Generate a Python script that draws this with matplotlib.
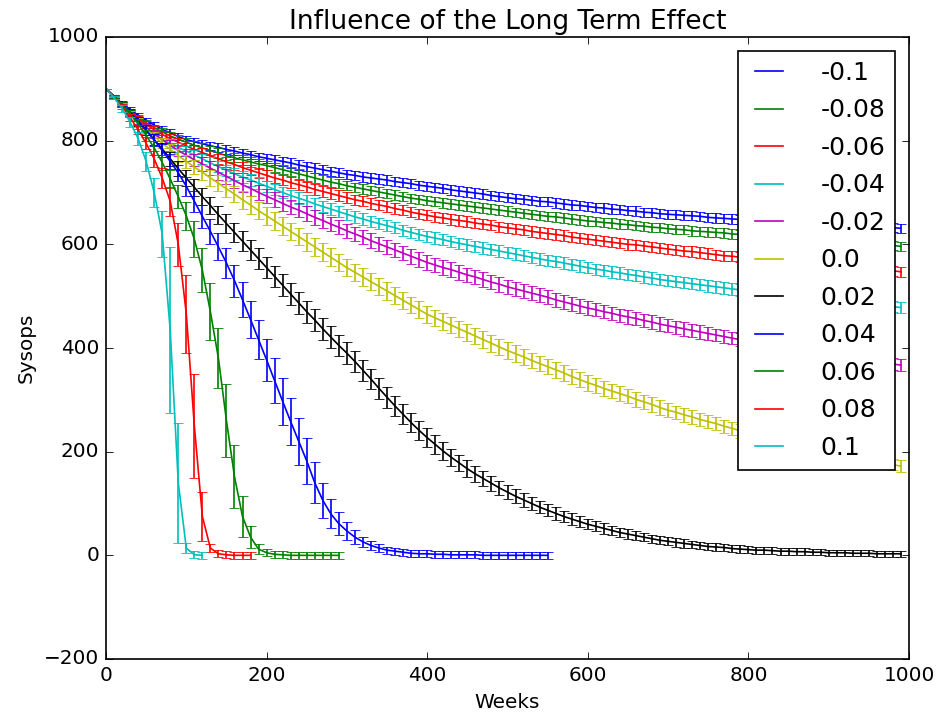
import numpy as np
import matplotlib
matplotlib.use('Agg')
import matplotlib.pyplot as plt

plt.style.use('classic')

# weeks sampled every 10 weeks, each run stops when its population is gone
weeks = np.arange(0, 1000, 10)
labels = ['-0.1', '-0.08', '-0.06', '-0.04', '-0.02', '0.0',
          '0.02', '0.04', '0.06', '0.08', '0.1']
colors = ['b', 'g', 'r', 'c', 'm', 'y', 'k', 'b', 'g', 'r', 'c']

sysops_m10 = [900, 885, 872, 860, 849, 839, 830, 822, 815, 808,
              802, 798, 794, 790, 787, 783, 780, 776, 773, 769,
              766, 763, 760, 757, 753, 750, 747, 744, 741, 738,
              735, 733, 730, 728, 726, 724, 721, 719, 717, 714,
              712, 710, 708, 705, 703, 701, 699, 697, 694, 692,
              690, 688, 687, 685, 683, 682, 680, 678, 676, 675,
              673, 671, 670, 668, 667, 665, 664, 662, 661, 659,
              658, 657, 656, 655, 654, 652, 651, 650, 649, 648,
              647, 646, 645, 644, 643, 642, 642, 641, 640, 639,
              638, 637, 636, 636, 635, 634, 633, 633, 632, 631]
sysops_m08 = [900, 884, 870, 857, 845, 834, 825, 817, 809, 803,
              797, 791, 786, 781, 776, 771, 767, 763, 759, 755,
              752, 748, 744, 740, 736, 732, 728, 724, 720, 717,
              713, 710, 707, 704, 701, 698, 695, 692, 689, 687,
              684, 682, 680, 678, 676, 674, 672, 670, 668, 666,
              664, 662, 660, 658, 656, 654, 653, 651, 649, 647,
              645, 644, 642, 641, 639, 638, 636, 635, 633, 632,
              630, 629, 628, 626, 625, 624, 623, 622, 620, 619,
              618, 617, 616, 614, 613, 612, 611, 610, 608, 607,
              606, 605, 604, 603, 602, 601, 600, 599, 598, 596]
sysops_m06 = [900, 883, 868, 854, 842, 831, 821, 812, 804, 797,
              790, 783, 777, 771, 765, 759, 754, 748, 743, 738,
              733, 728, 724, 719, 715, 711, 706, 702, 698, 694,
              690, 686, 683, 679, 676, 673, 669, 666, 662, 659,
              656, 653, 651, 648, 646, 644, 641, 639, 637, 634,
              632, 630, 628, 625, 623, 621, 619, 617, 614, 612,
              610, 608, 606, 604, 602, 600, 599, 597, 595, 593,
              591, 589, 587, 586, 584, 582, 580, 578, 577, 575,
              573, 572, 570, 569, 567, 566, 565, 563, 562, 560,
              559, 558, 556, 555, 554, 552, 551, 550, 549, 547]
sysops_m04 = [900, 883, 867, 852, 838, 825, 813, 802, 795, 787,
              780, 772, 765, 757, 750, 743, 736, 730, 724, 718,
              712, 706, 700, 694, 689, 684, 678, 673, 668, 663,
              658, 653, 649, 644, 640, 636, 632, 627, 623, 619,
              615, 612, 609, 605, 602, 599, 596, 593, 590, 587,
              584, 581, 578, 575, 572, 569, 567, 564, 561, 558,
              555, 552, 550, 547, 545, 542, 540, 537, 535, 532,
              530, 528, 526, 524, 522, 520, 518, 516, 514, 512,
              510, 508, 507, 505, 503, 502, 500, 498, 496, 495,
              493, 491, 490, 488, 486, 485, 483, 481, 480, 478]
sysops_m02 = [900, 884, 868, 853, 839, 826, 813, 802, 791, 781,
              772, 763, 755, 747, 739, 731, 723, 715, 708, 700,
              693, 686, 679, 672, 666, 659, 652, 646, 639, 633,
              626, 620, 614, 607, 601, 595, 589, 583, 577, 571,
              565, 560, 555, 551, 546, 541, 537, 532, 527, 523,
              518, 514, 510, 506, 502, 498, 493, 489, 485, 481,
              477, 474, 470, 467, 463, 460, 457, 453, 450, 446,
              443, 440, 437, 434, 431, 428, 425, 422, 419, 416,
              413, 411, 408, 406, 403, 401, 398, 396, 393, 391,
              388, 386, 383, 381, 379, 376, 374, 372, 369, 367]
sysops_00 = [900, 884, 868, 852, 837, 822, 808, 795, 783, 771,
             760, 749, 739, 728, 718, 707, 697, 686, 676, 665,
             655, 645, 635, 625, 615, 605, 595, 585, 575, 565,
             555, 546, 537, 528, 519, 510, 501, 492, 483, 474,
             465, 458, 451, 444, 437, 430, 423, 416, 409, 402,
             395, 389, 383, 376, 370, 364, 358, 352, 345, 339,
             333, 328, 322, 317, 312, 307, 301, 296, 291, 285,
             280, 276, 271, 267, 262, 258, 254, 249, 245, 240,
             236, 232, 229, 225, 222, 218, 214, 211, 207, 204,
             200, 197, 194, 191, 188, 184, 181, 178, 175, 172]
sysops_02 = [900, 885, 870, 853, 837, 820, 802, 784, 765, 746,
             728, 710, 692, 675, 657, 640, 623, 606, 589, 572,
             555, 538, 521, 504, 487, 470, 454, 437, 421, 405,
             390, 374, 357, 340, 322, 305, 288, 272, 256, 241,
             227, 214, 201, 189, 178, 167, 157, 148, 139, 130,
             122, 114, 107, 100, 93, 87, 81, 75, 70, 65,
             60, 56, 52, 48, 44, 41, 38, 35, 32, 29,
             27, 25, 23, 21, 19, 17, 16, 15, 13, 12,
             11, 10, 10, 9, 8, 8, 7, 7, 6, 6,
             5, 5, 5, 4, 4, 4, 3, 3, 3, 3]
sysops_04 = [900, 886, 871, 855, 838, 820, 801, 781, 760, 738,
             712, 683, 654, 625, 595, 564, 530, 493, 455, 416,
             377, 337, 297, 258, 220, 182, 140, 106, 80, 61,
             47, 35, 26, 19, 14, 10, 8, 6, 4, 3,
             3, 2, 2, 1, 1, 1, 1, 0, 0, 0,
             0, 0, 0, 0, 0, 0]
sysops_06 = [900, 886, 870, 852, 832, 810, 786, 758, 726, 692,
             655, 610, 550, 470, 380, 260, 152, 75, 35, 12,
             5, 2, 1, 0, 0, 0, 0, 0, 0, 0]
sysops_08 = [900, 884, 866, 845, 821, 795, 765, 728, 683, 600,
             466, 250, 75, 14, 3, 1, 0, 0, 0]
sysops_10 = [900, 883, 862, 836, 804, 760, 700, 620, 434, 140,
             14, 1, 0]

err_m10 = [0, 2, 3, 4, 5, 5, 6, 6, 7, 7,
           7, 7, 8, 8, 8, 8, 8, 8, 8, 8,
           9, 9, 9, 9, 9, 9, 9, 9, 9, 9,
           9, 9, 9, 9, 9, 9, 9, 9, 9, 9,
           9, 9, 9, 9, 9, 9, 9, 9, 9, 9,
           9, 9, 9, 9, 9, 9, 9, 9, 9, 9,
           9, 9, 9, 9, 9, 9, 9, 9, 9, 9,
           9, 9, 9, 9, 9, 9, 9, 9, 9, 9,
           9, 9, 9, 9, 9, 9, 9, 9, 9, 9,
           9, 9, 9, 9, 9, 9, 9, 9, 9, 9]
err_m08 = [0, 2, 3, 4, 5, 6, 6, 7, 7, 8,
           8, 8, 9, 9, 9, 9, 9, 9, 9, 9,
           9, 9, 9, 9, 9, 9, 9, 9, 9, 9,
           9, 9, 9, 9, 9, 9, 9, 9, 9, 9,
           9, 9, 9, 9, 9, 9, 9, 9, 9, 9,
           9, 9, 9, 9, 9, 9, 9, 9, 9, 9,
           9, 9, 9, 9, 9, 9, 9, 9, 9, 9,
           9, 9, 9, 9, 9, 9, 9, 9, 9, 9,
           9, 9, 9, 9, 9, 9, 9, 9, 9, 9,
           9, 9, 9, 9, 9, 9, 9, 9, 9, 9]
err_m06 = [0, 2, 3, 4, 5, 6, 7, 7, 8, 8,
           9, 9, 9, 10, 10, 10, 10, 10, 10, 10,
           10, 10, 10, 10, 10, 10, 10, 10, 10, 10,
           10, 10, 10, 10, 10, 10, 10, 10, 10, 10,
           10, 10, 10, 10, 10, 10, 10, 10, 10, 10,
           10, 10, 10, 10, 10, 10, 10, 10, 10, 10,
           10, 10, 10, 10, 10, 10, 10, 10, 10, 10,
           10, 10, 10, 10, 10, 10, 10, 10, 10, 10,
           10, 10, 10, 10, 10, 10, 10, 10, 10, 10,
           10, 10, 10, 10, 10, 10, 10, 10, 10, 10]
err_m04 = [0, 2, 3, 5, 6, 7, 7, 8, 9, 9,
           10, 10, 10, 11, 11, 11, 11, 11, 11, 11,
           11, 11, 11, 11, 11, 11, 11, 11, 11, 11,
           11, 11, 11, 11, 11, 11, 11, 11, 11, 11,
           11, 11, 11, 11, 11, 11, 11, 11, 11, 11,
           11, 11, 11, 11, 11, 11, 11, 11, 11, 11,
           11, 11, 11, 11, 11, 11, 11, 11, 11, 11,
           11, 11, 11, 11, 11, 11, 11, 11, 11, 11,
           11, 11, 11, 11, 11, 11, 11, 11, 11, 11,
           11, 11, 11, 11, 11, 11, 11, 11, 11, 11]
err_m02 = [0, 2, 4, 5, 6, 7, 8, 9, 10, 11,
           12, 12, 13, 13, 14, 14, 14, 14, 14, 14,
           14, 14, 14, 14, 14, 14, 14, 14, 14, 14,
           14, 14, 14, 14, 14, 14, 14, 14, 14, 14,
           14, 14, 14, 14, 14, 14, 14, 14, 14, 14,
           14, 14, 14, 14, 13, 13, 13, 13, 13, 13,
           13, 13, 13, 13, 13, 13, 13, 13, 13, 13,
           13, 13, 13, 13, 13, 13, 12, 12, 12, 12,
           12, 12, 12, 12, 12, 12, 12, 12, 12, 12,
           12, 12, 12, 12, 12, 12, 12, 12, 12, 12]
err_00 = [0, 3, 4, 6, 7, 8, 9, 10, 11, 12,
          13, 14, 15, 15, 16, 16, 16, 17, 17, 17,
          17, 17, 17, 17, 17, 17, 17, 17, 17, 17,
          17, 17, 17, 17, 17, 17, 16, 16, 16, 16,
          16, 16, 16, 16, 16, 16, 16, 16, 16, 16,
          16, 16, 15, 15, 15, 15, 15, 15, 15, 15,
          15, 15, 14, 14, 14, 14, 14, 14, 14, 14,
          14, 13, 13, 13, 13, 13, 13, 13, 13, 13,
          12, 12, 12, 12, 12, 12, 12, 12, 12, 12,
          11, 11, 11, 11, 11, 11, 11, 11, 11, 11]
err_02 = [0, 3, 5, 7, 8, 10, 11, 12, 13, 14,
          15, 16, 16, 17, 17, 18, 18, 19, 19, 20,
          20, 20, 21, 21, 21, 21, 21, 21, 21, 21,
          21, 21, 20, 20, 20, 20, 19, 19, 19, 18,
          18, 18, 17, 17, 16, 16, 16, 15, 15, 14,
          14, 14, 13, 13, 12, 12, 12, 11, 11, 10,
          10, 10, 10, 9, 9, 9, 9, 8, 8, 8,
          8, 8, 8, 7, 7, 7, 7, 7, 7, 7,
          7, 7, 7, 7, 7, 7, 7, 7, 6, 6,
          6, 6, 6, 6, 6, 6, 6, 6, 6, 6]
err_04 = [0, 3, 5, 7, 8, 10, 11, 13, 14, 16,
          18, 20, 22, 24, 26, 28, 31, 34, 36, 38,
          40, 43, 46, 46, 45, 44, 40, 34, 28, 22,
          17, 13, 10, 8, 7, 7, 7, 7, 7, 7,
          7, 7, 7, 7, 7, 7, 7, 7, 7, 7,
          7, 7, 7, 7, 7, 7]
err_06 = [0, 3, 5, 7, 9, 11, 13, 15, 18, 22,
          27, 35, 42, 55, 58, 71, 61, 39, 21, 10,
          7, 7, 7, 7, 7, 7, 7, 7, 7, 7]
err_08 = [0, 3, 5, 7, 9, 12, 15, 20, 28, 42,
          75, 100, 48, 8, 7, 7, 7, 7, 7]
err_10 = [0, 3, 6, 9, 12, 18, 28, 45, 160, 116,
          9, 7, 7]

series = [(sysops_m10, err_m10), (sysops_m08, err_m08), (sysops_m06, err_m06),
          (sysops_m04, err_m04), (sysops_m02, err_m02), (sysops_00, err_00),
          (sysops_02, err_02), (sysops_04, err_04), (sysops_06, err_06),
          (sysops_08, err_08), (sysops_10, err_10)]

fig = plt.figure(figsize=(941 / 120., 722 / 120.), dpi=120)
ax = fig.add_axes([106 / 941., 63 / 722., 803 / 941., 622 / 722.])

for (vals, errs), label, color in zip(series, labels, colors):
    x = weeks[:len(vals)]
    ax.errorbar(x, vals, yerr=errs, fmt='none', ecolor=color, capsize=3)
    ax.plot(x, vals, color=color, label=label)

ax.set_xlim(0, 1000)
ax.set_ylim(-200, 1000)
ax.set_title('Influence of the Long Term Effect', fontsize=15.8)
ax.set_xlabel('Weeks')
ax.set_ylabel('Sysops')
ax.legend(loc='upper right', fontsize=15, labelspacing=0.54,
          handlelength=1.7, handletextpad=1.2, borderaxespad=0.55)

fig.savefig('out.png', dpi=120)
